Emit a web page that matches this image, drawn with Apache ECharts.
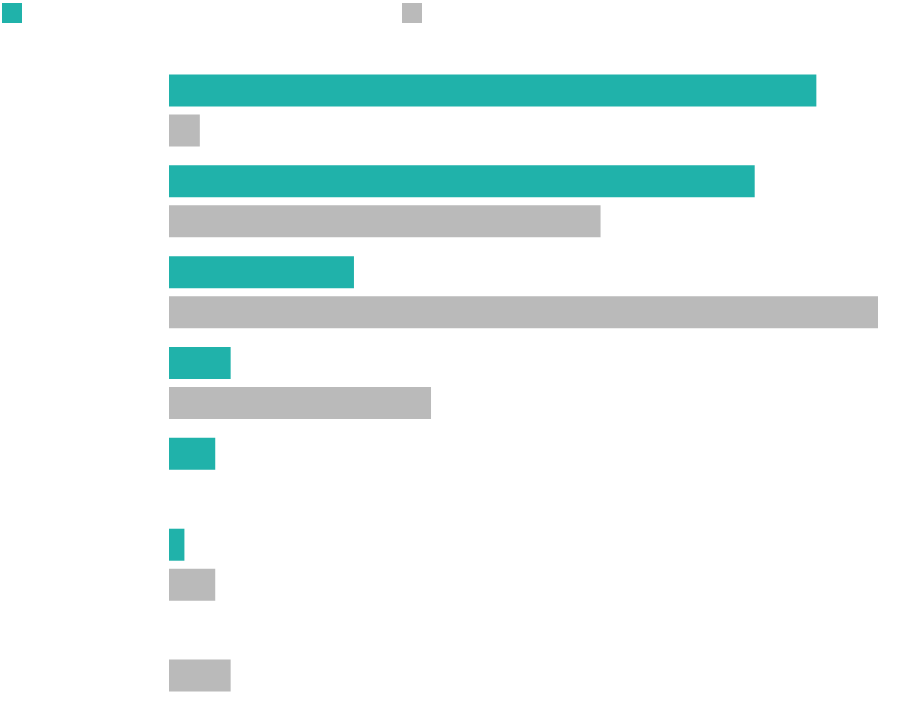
<!DOCTYPE html>
<html>
<head>
<meta charset="utf-8">
<script src="https://cdn.jsdelivr.net/npm/echarts@6/dist/echarts.min.js"></script>
<style>html,body{margin:0;padding:0;background:#fff;}#chart{width:920px;height:712px;}</style>
</head>
<body>
<div id="chart"></div>
<script>
const categories = ['Category 1', 'Category 2', 'Category 3', 'Category 4', 'Category 5', 'Category 6', 'Category 7'];
const seriesAName = 'Series A';
const seriesBName = 'Series B';
const seriesAValues = [42, 38, 12, 4, 3, 1, 0];
const seriesBValues = [2, 28, 46, 17, 0, 3, 4];

const chart = echarts.init(document.getElementById('chart'));
chart.setOption({
  animation: false,
  backgroundColor: '#ffffff',
  legend: [
    { data: [seriesAName], left: 2, top: 3, padding: 0, icon: 'rect', itemWidth: 20, itemHeight: 20, formatter: () => '', selectedMode: false },
    { data: [seriesBName], left: 402, top: 3, padding: 0, icon: 'rect', itemWidth: 20, itemHeight: 20, formatter: () => '', selectedMode: false }
  ],
  grid: { left: 169, right: 42, top: 65, bottom: 11, containLabel: false },
  xAxis: {
    type: 'value', min: 0, max: 46,
    show: false
  },
  yAxis: {
    type: 'category', data: categories, inverse: true,
    axisLine: { show: false }, axisTick: { show: false }, axisLabel: { show: false }, splitLine: { show: false }
  },
  series: [
    { name: seriesAName, type: 'bar', data: seriesAValues, barWidth: 32, barGap: '25%', itemStyle: { color: '#20b2aa' } },
    { name: seriesBName, type: 'bar', data: seriesBValues, barWidth: 32, barGap: '25%', itemStyle: { color: '#bababa' } }
  ]
});
</script>
</body>
</html>
